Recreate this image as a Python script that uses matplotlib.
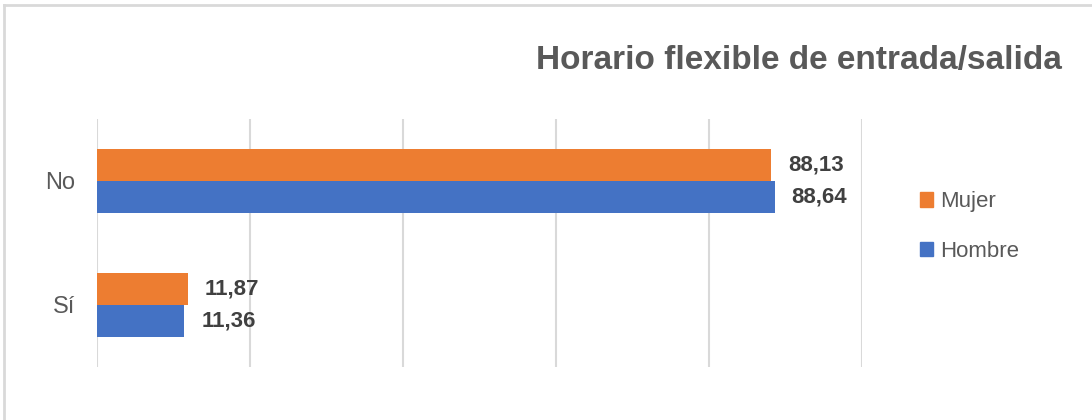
import matplotlib.pyplot as plt
import numpy as np
from matplotlib.lines import Line2D

categories = ["Sí", "No"]
mujer = [11.87, 88.13]
hombre = [11.36, 88.64]
series_names = ["Mujer", "Hombre"]
title = "Horario flexible de entrada/salida"

plt.rcParams["font.family"] = ["Liberation Sans", "DejaVu Sans"]

fig = plt.figure(figsize=(10.92, 4.2), dpi=100)
ax = fig.add_axes([0.0888, 0.1262, 0.7006, 0.5905])

y = np.arange(len(categories))
h = 0.26
b_m = ax.barh(y + h / 2, mujer, height=h, color="#ED7D31", label=series_names[0])
b_h = ax.barh(y - h / 2, hombre, height=h, color="#4472C4", label=series_names[1])

for bars, vals in [(b_m, mujer), (b_h, hombre)]:
    for bar, v in zip(bars, vals):
        ax.annotate(f"{v:.2f}".replace(".", ","),
                    xy=(bar.get_width(), bar.get_y() + bar.get_height() / 2),
                    xytext=(32, 0), textcoords="offset points",
                    ha="center", va="center", fontsize=16, fontweight="bold",
                    color="#404040")

ax.set_xlim(0, 100)
ax.set_ylim(-0.5, 1.5)
ax.set_xticks(np.arange(0, 101, 20))
ax.set_xticklabels([])
ax.set_yticks(y)
ax.set_yticklabels(categories, fontsize=17, color="#595959")
ax.tick_params(length=0, pad=16)
ax.grid(axis="x", color="#d9d9d9", linewidth=1.5)
ax.set_axisbelow(True)
for s in ax.spines.values():
    s.set_visible(False)

fig.text(0.972, 0.857, title, ha="right", va="center", fontsize=24,
         fontweight="bold", color="#595959")

handles = [plt.Rectangle((0, 0), 1, 1, color="#ED7D31"),
           plt.Rectangle((0, 0), 1, 1, color="#4472C4")]
fig.legend(handles, series_names, loc="center left", bbox_to_anchor=(0.824, 0.46),
           frameon=False, fontsize=16, handlelength=0.6, handleheight=0.6,
           handletextpad=0.3, labelspacing=1.3, labelcolor="#595959")

# chart frame (only top and left edges are visible in the crop)
fig.add_artist(Line2D([0.004, 1.0], [0.987, 0.987], color="#d9d9d9", linewidth=2,
                      transform=fig.transFigure))
fig.add_artist(Line2D([0.004, 0.004], [0.0, 0.987], color="#d9d9d9", linewidth=2,
                      transform=fig.transFigure))

fig.savefig("out.png", dpi=100)
